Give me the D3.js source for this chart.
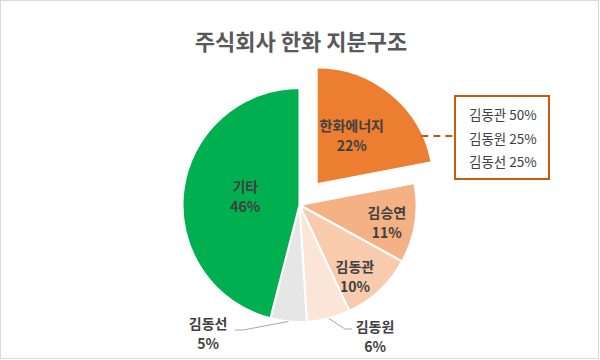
<!DOCTYPE html>
<html><head><meta charset="utf-8">
<script src="https://cdn.jsdelivr.net/npm/d3@7"></script>
<style>body{margin:0;background:#fff}svg{display:block}text{font-family:"Noto Sans CJK KR","Noto Sans",sans-serif}</style>
</head><body>
<svg id="c" width="600" height="360"></svg>
<script>
const title = "주식회사 한화 지분구조";
const categories = ["한화에너지", "김승연", "김동관", "김동원", "김동선", "기타"];
const values = [22, 11, 10, 6, 5, 46];
const calloutNames = ["김동관", "김동원", "김동선"];
const calloutValues = [50, 25, 25];

const colors = ["#ED7D31", "#F4B183", "#F8CBAD", "#FBE5D6", "#E7E6E6", "#00B050"];
// layout: label polar placement (degrees clockwise from 12 o'clock, radius px), outside flag, explode
const layout = [
  {ang: 35.7, rad: 60, outside: false, explode: 27},
  {ang: 101, rad: 89, outside: false, explode: 0},
  {ang: 142, rad: 90, outside: false, explode: 0},
  {ang: 150, rad: 151, outside: true, explode: 0, elbow: [345, 329], end: [352, 329]},
  {ang: 215.6, rad: 157, outside: true, explode: 0, elbow: [243, 330], end: [235, 330]},
  {ang: 279.5, rad: 55, outside: false, explode: 0}
];

const svg = d3.select("#c");
const cx = 299.5, cy = 205, R = 117;

svg.append("rect").attr("x", 0.5).attr("y", 0.5).attr("width", 598).attr("height", 358)
  .attr("fill", "#fff").attr("stroke", "#d9d9d9").attr("stroke-width", 1);

svg.append("text").attr("x", 301).attr("y", 40).attr("text-anchor", "middle")
  .attr("dominant-baseline", "central").attr("font-size", 22).attr("font-weight", "bold")
  .attr("fill", "#595959").text(title);

const pie = d3.pie().sort(null).value(d => d)(values);
const arc = d3.arc().innerRadius(0).outerRadius(R);
const rad = a => a * Math.PI / 180;
const polar = (a, r) => [r * Math.sin(rad(a)), -r * Math.cos(rad(a))];

const g = svg.append("g").attr("transform", `translate(${cx},${cy})`);

pie.forEach((p, i) => {
  const mid = (p.startAngle + p.endAngle) / 2;
  const ex = layout[i].explode;
  const off = [ex * Math.sin(mid), -ex * Math.cos(mid)];
  const sg = g.append("g").attr("transform", `translate(${off[0]},${off[1]})`);
  sg.append("path").attr("d", arc(p)).attr("fill", colors[i])
    .attr("stroke", "#fff").attr("stroke-width", 2).attr("stroke-linejoin", "round");

  const L = layout[i];
  const lp = polar(L.ang, L.rad);
  const t = sg.append("text").attr("text-anchor", "middle").attr("font-size", 14)
    .attr("font-weight", "bold").attr("fill", "#404040");
  t.append("tspan").attr("x", lp[0]).attr("y", lp[1] - 10).attr("dominant-baseline", "central").text(categories[i]);
  t.append("tspan").attr("x", lp[0]).attr("y", lp[1] + 10).attr("dominant-baseline", "central").text(values[i] + "%");

  if (L.outside) {
    const s = [R * Math.sin(mid), -R * Math.cos(mid)];
    const pts = [s, [L.elbow[0] - cx, L.elbow[1] - cy], [L.end[0] - cx, L.end[1] - cy]];
    g.append("polyline").attr("points", pts.map(q => q.join(",")).join(" "))
      .attr("fill", "none").attr("stroke", "#a6a6a6").attr("stroke-width", 1);
  }
});

// callout
const p0 = pie[0];
const mid0 = (p0.startAngle + p0.endAngle) / 2;
const ex0 = layout[0].explode;
const ecx = cx + ex0 * Math.sin(mid0), ecy = cy - ex0 * Math.cos(mid0);
const boxX = 455, boxY = 96, boxW = 94, boxH = 83;
const lineY = 136;
const dy = lineY - ecy;
const sx = ecx + Math.sqrt(R * R - dy * dy);
svg.append("line").attr("x1", sx - 2).attr("y1", lineY).attr("x2", boxX).attr("y2", lineY)
  .attr("stroke", "#C55A11").attr("stroke-width", 2).attr("stroke-dasharray", "7,5");
svg.append("rect").attr("x", boxX).attr("y", boxY).attr("width", boxW).attr("height", boxH)
  .attr("fill", "#fff").attr("stroke", "#C55A11").attr("stroke-width", 2);
calloutNames.forEach((n, i) => {
  svg.append("text").attr("x", 469).attr("y", 114 + i * 23.5).attr("dominant-baseline", "central")
    .attr("font-size", 13.5).attr("fill", "#404040").text(n + " " + calloutValues[i] + "%");
});
</script>
</body></html>
